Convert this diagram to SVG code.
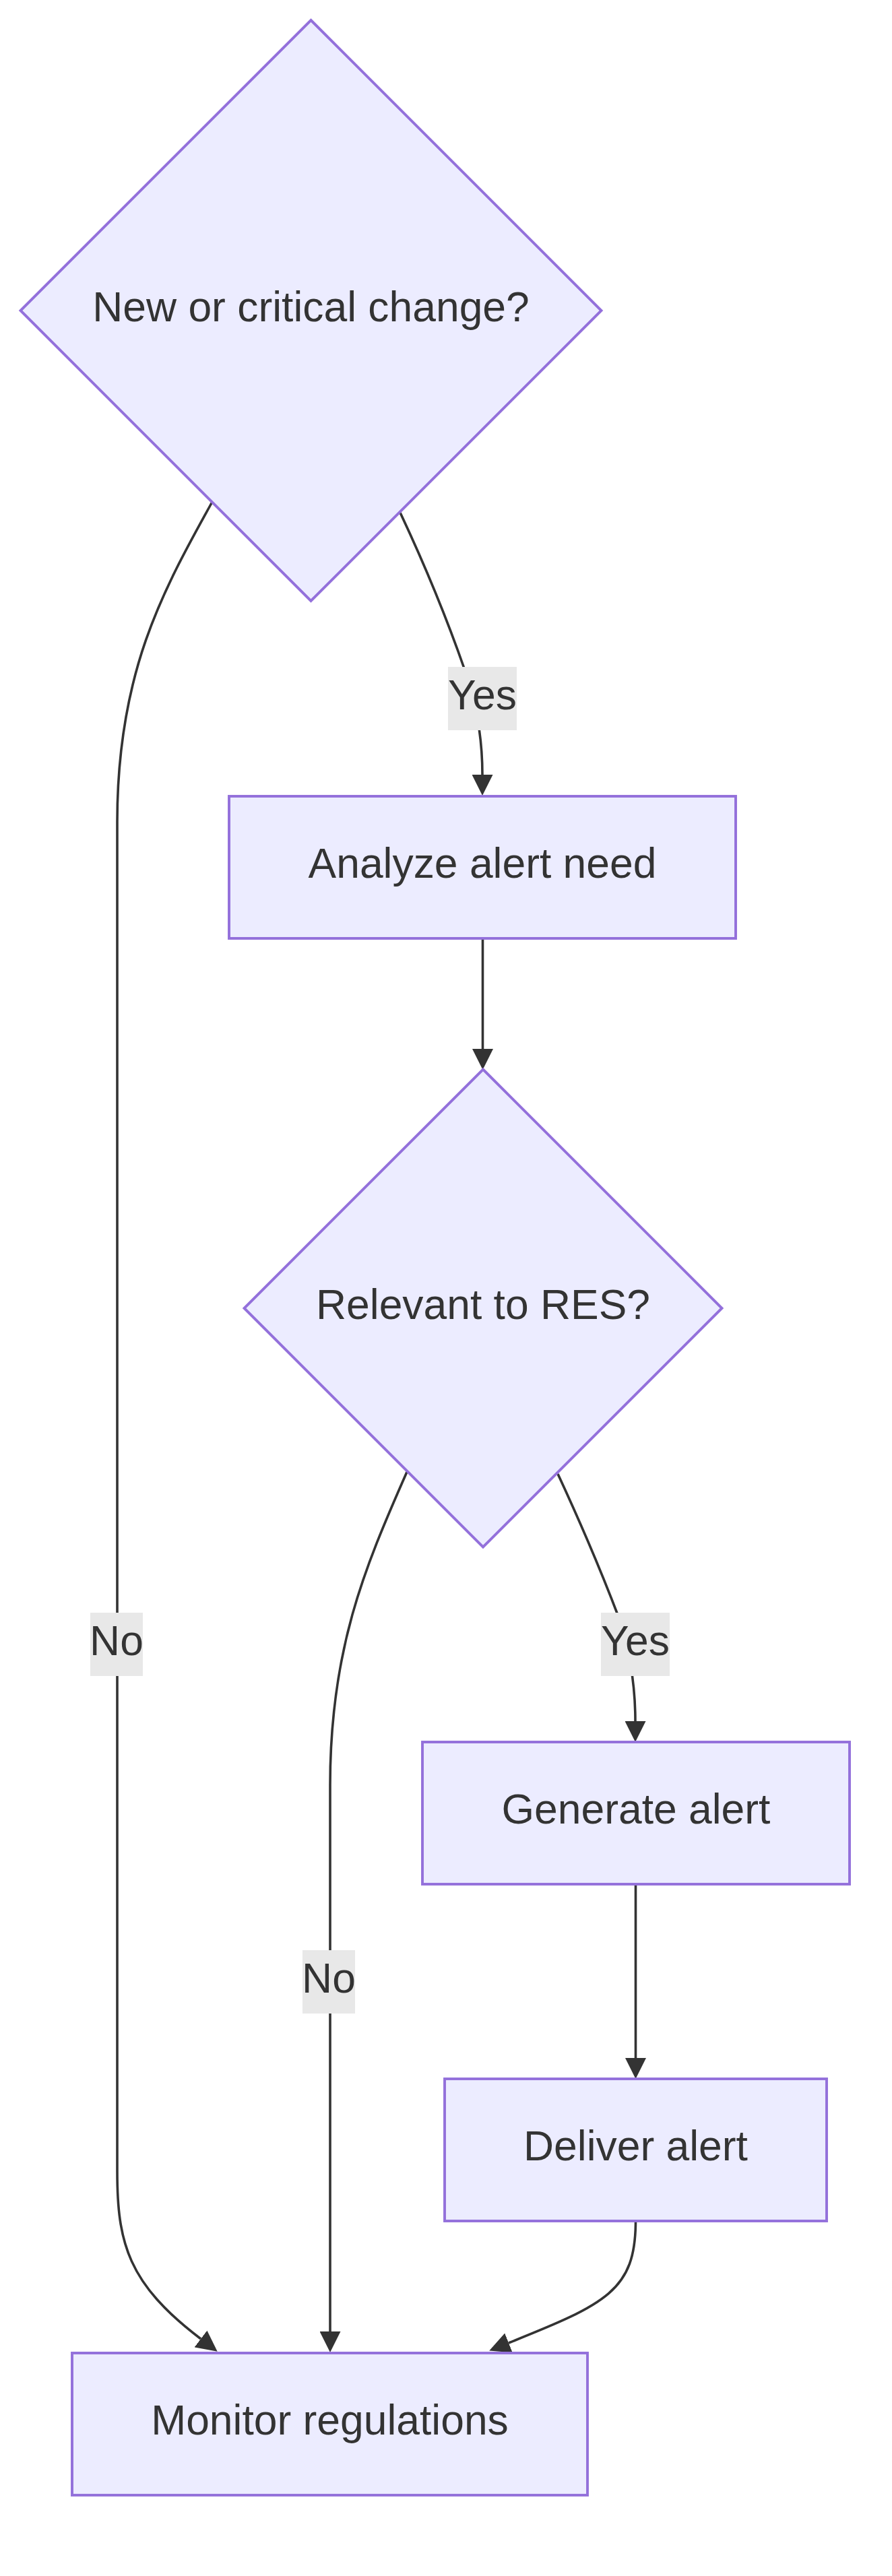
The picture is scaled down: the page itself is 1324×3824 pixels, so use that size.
<svg xmlns="http://www.w3.org/2000/svg" width="1324" height="3824" viewBox="0 0 1324 3824">
<style>
.node-shape{fill:#ECECFF;stroke:#9370DB;stroke-width:3.9px;}
.node-text{font-family:"Liberation Sans",Arial,sans-serif;font-size:62.4px;fill:#333333;text-anchor:middle;}
.edge{fill:none;stroke:#333333;stroke-width:3.6px;}
.label-bg{fill:#e8e8e8;}
.label-text{font-family:"Liberation Sans",Arial,sans-serif;font-size:62.4px;fill:#333333;text-anchor:middle;}
</style>
<defs>
<marker id="arrow" viewBox="0 0 10 10" refX="0" refY="5" markerUnits="userSpaceOnUse" markerWidth="31" markerHeight="31" orient="auto">
<path d="M0,0 L10,5 L0,10 z" fill="#333333"/>
</marker>
</defs>
<rect x="0" y="0" width="1324" height="3824" fill="#ffffff"/>
<g id="connectors">
<path class="edge" d="M594,761 Q650,880 690,995 Q716,1070 716,1150" marker-end="url(#arrow)"/>
<path class="edge" d="M315,745 C240,880 174,1000 174,1220 L174,3223 C174,3330 190,3390 298,3472" marker-end="url(#arrow)"/>
<path class="edge" d="M716.5,1393 L716.5,1557" marker-end="url(#arrow)"/>
<path class="edge" d="M604,2185 C540,2330 490,2450 490,2650 L490,3461" marker-end="url(#arrow)"/>
<path class="edge" d="M828,2188 Q880,2300 918,2400 Q943,2475 943,2555" marker-end="url(#arrow)"/>
<path class="edge" d="M943.5,2797 L943.5,3055" marker-end="url(#arrow)"/>
<path class="edge" d="M943.5,3297 C943.5,3400 900,3420 755,3478" marker-end="url(#arrow)"/>
</g>
<g id="edge-labels">
<g id="label-yes-1"><rect class="label-bg" x="665" y="990" width="102" height="94"/><text class="label-text" x="716" y="1053">Yes</text></g>
<g id="label-no-1"><rect class="label-bg" x="134" y="2394" width="78" height="94"/><text class="label-text" x="173" y="2457">No</text></g>
<g id="label-yes-2"><rect class="label-bg" x="892" y="2394" width="102" height="94"/><text class="label-text" x="943" y="2457">Yes</text></g>
<g id="label-no-2"><rect class="label-bg" x="449" y="2895" width="78" height="94"/><text class="label-text" x="488" y="2958">No</text></g>
</g>
<g id="node-change">
<polygon class="node-shape" points="461.5,30 892.5,461 461.5,892 30.5,461"/>
<text class="node-text" x="461.5" y="477">New or critical change?</text>
</g>
<g id="node-analyze">
<rect class="node-shape" x="340" y="1182" width="752" height="211"/>
<text class="node-text" x="716" y="1303">Analyze alert need</text>
</g>
<g id="node-relevant">
<polygon class="node-shape" points="717,1587.5 1071.5,1942 717,2296.5 362.5,1942"/>
<text class="node-text" x="717" y="1958">Relevant to RES?</text>
</g>
<g id="node-generate">
<rect class="node-shape" x="627" y="2586" width="634" height="211"/>
<text class="node-text" x="944" y="2707">Generate alert</text>
</g>
<g id="node-deliver">
<rect class="node-shape" x="660" y="3086" width="567" height="211"/>
<text class="node-text" x="943.5" y="3207">Deliver alert</text>
</g>
<g id="node-monitor">
<rect class="node-shape" x="107" y="3493" width="765" height="211"/>
<text class="node-text" x="489.5" y="3614">Monitor regulations</text>
</g>
</svg>
